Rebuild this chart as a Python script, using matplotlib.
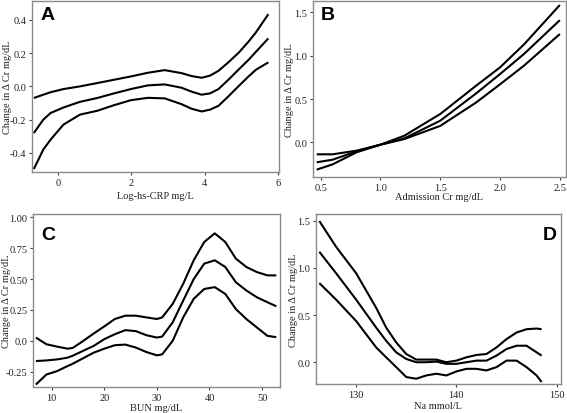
import numpy as np
import matplotlib.pyplot as plt

# --- data (x, upper, middle, lower) ---
crp_x = [-0.66, -0.4, -0.2, 0.15, 0.6, 1.07, 1.53, 1.99, 2.45, 2.91, 3.37, 3.65, 3.92, 4.15, 4.38, 4.65, 4.94, 5.2, 5.4, 5.74]
crp_hi = [-0.070, -0.05, -0.035, -0.016, 0.0, 0.02, 0.04, 0.06, 0.082, 0.098, 0.08, 0.062, 0.052, 0.065, 0.094, 0.145, 0.205, 0.27, 0.325, 0.435]
crp_mid = [-0.281, -0.2, -0.16, -0.127, -0.093, -0.07, -0.042, -0.016, 0.006, 0.012, -0.008, -0.032, -0.05, -0.042, -0.016, 0.04, 0.104, 0.16, 0.208, 0.289]
crp_lo = [-0.498, -0.38, -0.32, -0.23, -0.17, -0.147, -0.113, -0.083, -0.069, -0.072, -0.107, -0.135, -0.151, -0.14, -0.117, -0.06, 0.004, 0.06, 0.1, 0.145]

cr_x = [0.467, 0.6, 0.8, 1.0, 1.2, 1.5, 1.8, 2.0, 2.2, 2.5]
cr_hi = [-0.138, -0.138, -0.096, -0.027, 0.077, 0.327, 0.654, 0.865, 1.13, 1.585]
cr_mid = [-0.23, -0.2, -0.104, -0.027, 0.046, 0.25, 0.565, 0.788, 1.02, 1.41]
cr_lo = [-0.315, -0.254, -0.115, -0.027, 0.038, 0.19, 0.46, 0.67, 0.885, 1.25]

bun_x = [7.0, 9, 11, 13, 14, 16, 18, 20, 22, 24, 26, 28, 30, 31, 33, 35, 37, 39, 41, 43, 45, 47, 49, 51, 52.7]
bun_hi = [0.027, -0.027, -0.046, -0.063, -0.057, 0.0, 0.06, 0.117, 0.177, 0.204, 0.204, 0.19, 0.177, 0.19, 0.299, 0.462, 0.652, 0.80, 0.87, 0.80, 0.666, 0.598, 0.557, 0.53, 0.53]
bun_mid = [-0.163, -0.158, -0.15, -0.136, -0.12, -0.08, -0.04, 0.014, 0.054, 0.087, 0.079, 0.046, 0.027, 0.035, 0.15, 0.326, 0.50, 0.625, 0.652, 0.598, 0.475, 0.408, 0.353, 0.313, 0.28]
bun_lo = [-0.353, -0.272, -0.245, -0.204, -0.185, -0.14, -0.095, -0.063, -0.035, -0.03, -0.054, -0.09, -0.117, -0.109, 0.0, 0.19, 0.34, 0.42, 0.435, 0.38, 0.258, 0.177, 0.109, 0.041, 0.03]

na_x = [126.33, 128, 130, 132, 133, 134, 135, 136, 137, 138, 139, 140, 141, 142, 143, 144, 145, 146, 147, 148, 148.5]
na_hi = [1.497, 1.224, 0.944, 0.577, 0.367, 0.21, 0.087, 0.028, 0.028, 0.028, 0.0, 0.017, 0.052, 0.077, 0.087, 0.157, 0.245, 0.315, 0.35, 0.357, 0.35]
na_mid = [1.171, 0.944, 0.664, 0.367, 0.227, 0.105, 0.035, 0.0, 0.0, 0.007, -0.017, -0.017, 0.0, 0.017, 0.017, 0.07, 0.14, 0.175, 0.175, 0.105, 0.07]
na_lo = [0.839, 0.664, 0.437, 0.157, 0.052, -0.052, -0.157, -0.175, -0.14, -0.122, -0.14, -0.098, -0.07, -0.07, -0.087, -0.052, 0.017, 0.017, -0.052, -0.14, -0.21]

ylab = "Change in \u0394 Cr mg/dL"

panels = [
    # rect, x, curves, xlim, ylim, xticks, xtick labels, yticks, ytick labels, xlabel, letter, letter pos, label coords
    ([0.0564, 0.582, 0.4356, 0.413], crp_x, (crp_hi, crp_mid, crp_lo), (-0.71, 6.03), (-0.516, 0.514),
     [0, 2, 4, 6], ["0", "2", "4", "6"],
     [-0.4, -0.2, 0.0, 0.2, 0.4], ["-0.4", "-0.2", "0.0", "0.2", "0.4"], "Log-hs-CRP mg/L",
     "A", (0.035, 0.97, "left"), (-0.101, -0.140)),
    ([0.552, 0.570, 0.446, 0.425], cr_x, (cr_hi, cr_mid, cr_lo), (0.436, 2.55), (-0.40, 1.63),
     [0.5, 1.0, 1.5, 2.0, 2.5], ["0.5", "1.0", "1.5", "2.0", "2.5"],
     [0.0, 0.5, 1.0, 1.5], ["0.0", "0.5", "1.0", "1.5"], "Admission Cr mg/dL",
     "B", (0.03, 0.97, "left"), (-0.091, -0.108)),
    ([0.0582, 0.0628, 0.4356, 0.418], bun_x, (bun_hi, bun_mid, bun_lo), (6.45, 53.4), (-0.373, 1.027),
     [10, 20, 30, 40, 50], ["10", "20", "30", "40", "50"],
     [-0.25, 0.0, 0.25, 0.5, 0.75, 1.0], ["-0.25", "0.0", "0.25", "0.50", "0.75", "1.00"], "BUN mg/dL",
     "C", (0.035, 0.93, "left"), (-0.109, -0.116)),
    ([0.5568, 0.070, 0.432, 0.4106], na_x, (na_hi, na_mid, na_lo), (125.97, 150.4), (-0.231, 1.571),
     [130, 140, 150], ["130", "140", "150"],
     [0.0, 0.5, 1.0, 1.5], ["0.0", "0.5", "1.0", "1.5"], "Na mmol/L",
     "D", (0.985, 0.93, "right"), (-0.090, -0.129)),
]

serif = "Liberation Serif"
fig = plt.figure(figsize=(5.67, 4.14), dpi=100)

for rect, xs, curves, xlim, ylim, xt, xtl, yt, ytl, xlab, letter, (lx, ly, ha), (yl_x, xl_y) in panels:
    ax = fig.add_axes(rect)
    for c in curves:
        ax.plot(xs, c, color="black", lw=1.5, solid_capstyle="butt")
    ax.set_xlim(*xlim)
    ax.set_ylim(*ylim)
    ax.set_xticks(xt)
    ax.set_xticklabels(xtl, fontfamily=serif, fontsize=7.5)
    ax.set_yticks(yt)
    ax.set_yticklabels(ytl, fontfamily=serif, fontsize=7.5)
    ax.tick_params(direction="out", length=2.5, width=0.8, color="#404040", pad=1.5, labelcolor="#222222")
    for s in ax.spines.values():
        s.set_color("#8a8a8a")
        s.set_linewidth(1.0)
    ax.set_xlabel(xlab, fontfamily=serif, fontsize=7.5, color="#222222", va="center")
    ax.set_ylabel(ylab, fontfamily=serif, fontsize=7.5, color="#222222", va="center")
    ax.xaxis.set_label_coords(0.5, xl_y)
    ax.yaxis.set_label_coords(yl_x, 0.5)
    ax.text(lx, ly, letter, transform=ax.transAxes, ha=ha, va="top",
            fontfamily="Liberation Sans", fontweight="bold", fontsize=14)

fig.savefig("out.png", dpi=100)
